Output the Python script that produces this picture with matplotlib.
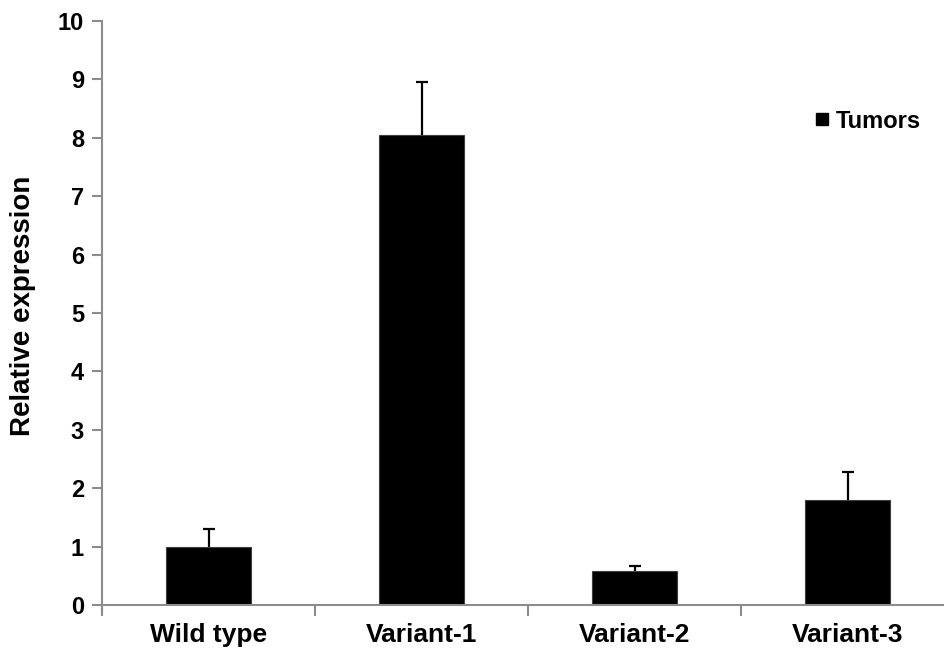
import matplotlib.pyplot as plt
from matplotlib.lines import Line2D
import numpy as np

plt.rcParams['font.family'] = ['Liberation Sans', 'DejaVu Sans']

groups = ['Wild type', 'Variant-1', 'Variant-2', 'Variant-3']
expression = [1.0, 8.05, 0.59, 1.79]
err_upper = [0.30, 0.90, 0.08, 0.48]
series_name = 'Tumors'

fig = plt.figure(figsize=(9.44, 6.53), dpi=100)
ax = fig.add_axes([102 / 944, 1 - 605 / 653, 852 / 944, 584 / 653])

x = np.arange(len(groups))
ax.bar(x, expression, width=0.4, color='black', edgecolor='#404040', linewidth=0.8, zorder=2)
# upper error only: stem from bar top plus a cap at the end
tops = np.array(expression) + np.array(err_upper)
ax.vlines(x, expression, tops, colors='black', linewidth=1.6, zorder=3)
ax.plot(x, tops, linestyle='none', marker='_', markersize=9, markeredgewidth=1.6,
        color='black', zorder=3)

ax.set_xlim(-0.5, len(groups) - 0.5)
ax.set_ylim(0, 10)
ax.set_yticks(range(0, 11))
ax.set_xticks(x)
ax.set_xticklabels(groups, fontsize=19, fontweight='bold')
ax.set_xticks(np.arange(-0.5, len(groups), 1.0), minor=True)
ax.tick_params(axis='x', which='major', length=0, pad=13)
ax.tick_params(axis='x', which='minor', length=8, width=1.5, color='#8c8c8c', direction='out')
ax.tick_params(axis='y', length=7, width=1.5, color='#8c8c8c', labelsize=17, pad=6)
for lab in ax.get_yticklabels():
    lab.set_fontweight('bold')

for side in ['top', 'right']:
    ax.spines[side].set_visible(False)
for side in ['left', 'bottom']:
    ax.spines[side].set_color('#8c8c8c')
    ax.spines[side].set_linewidth(1.5)
ax.spines['left'].set_bounds(-0.14, 10)

fig.text(23 / 944, 1 - 306 / 653, 'Relative expression', rotation=90, ha='center', va='center',
         fontsize=20, fontweight='bold')

handle = Line2D([], [], marker='s', color='black', linestyle='none', markersize=9)
fig.legend([handle], [series_name], loc='center left', bbox_to_anchor=(815 / 944, 1 - 121 / 653),
           frameon=False, handlelength=0.6, handletextpad=0.3, borderpad=0, borderaxespad=0,
           prop={'weight': 'bold', 'size': 17})

fig.savefig('out.png', dpi=100)
